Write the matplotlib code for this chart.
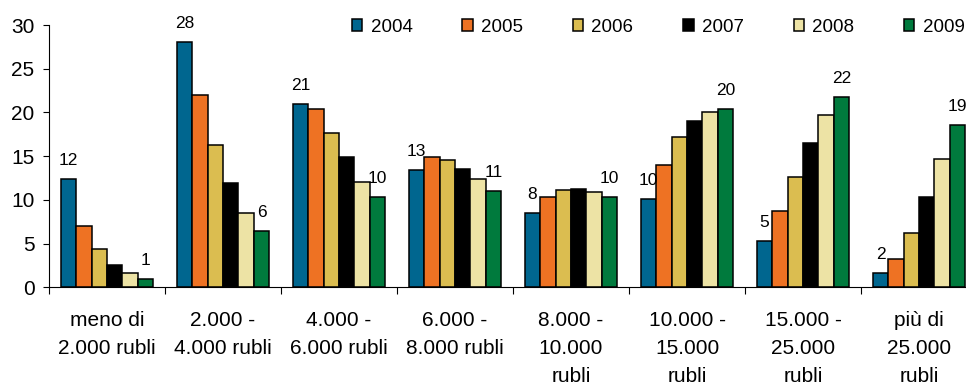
import numpy as np
import matplotlib.pyplot as plt

# =========================
# DATA
# =========================
categories = ["meno di\n2.000 rubli", "2.000 -\n4.000 rubli", "4.000 -\n6.000 rubli",
              "6.000 -\n8.000 rubli", "8.000 -\n10.000\nrubli", "10.000 -\n15.000\nrubli",
              "15.000 -\n25.000\nrubli", "più di\n25.000\nrubli"]
years = ["2004", "2005", "2006", "2007", "2008", "2009"]

v2004 = [12.4, 28.1, 21.0, 13.4, 8.45, 10.1, 5.3, 1.6]
v2005 = [7.05, 22.0, 20.4, 14.9, 10.3, 14.0, 8.7, 3.2]
v2006 = [4.4, 16.25, 17.6, 14.6, 11.15, 17.2, 12.6, 6.2]
v2007 = [2.55, 11.9, 14.95, 13.55, 11.25, 19.0, 16.55, 10.3]
v2008 = [1.6, 8.45, 12.1, 12.35, 10.95, 20.1, 19.7, 14.65]
v2009 = [0.9, 6.45, 10.3, 11.0, 10.3, 20.4, 21.75, 18.6]

series = [v2004, v2005, v2006, v2007, v2008, v2009]
colors = ["#00668F", "#EE7223", "#DBBD50", "#000000", "#EDE3A5", "#007A3D"]

# =========================
# PLOT
# =========================
plt.rcParams['font.family'] = ['Liberation Sans', 'DejaVu Sans']

fig = plt.figure(figsize=(9.66, 3.85), dpi=100)
ax = fig.add_axes([49 / 966, 0.2538, 928 / 966, 0.6812])

x = np.arange(len(categories))
w = 0.1327
bars = []
for i, (vals, col) in enumerate(zip(series, colors)):
    pos = x - 3 * w + w / 2 + i * w
    b = ax.bar(pos, vals, width=w, color=col, edgecolor="black", linewidth=1.1,
               label=years[i], zorder=2)
    bars.append(b)

# value labels for first and last year only
for b in (bars[0], bars[-1]):
    for rect in b:
        h = rect.get_height()
        ax.annotate(f"{h:.0f}", (rect.get_x() + rect.get_width() / 2, h),
                    xytext=(0, 8), textcoords="offset points",
                    ha="center", va="bottom", fontsize=12.5)

ax.set_xlim(-0.5, len(categories) - 0.5)
ax.set_ylim(0, 30)
ax.set_yticks(range(0, 31, 5))
ax.tick_params(axis="y", labelsize=15, length=4.5, width=0.8, pad=6)

ax.set_xticks(np.arange(len(categories) + 1) - 0.5)
ax.set_xticklabels([])
ax.set_xticks(x, minor=True)
ax.set_xticklabels(categories, minor=True, fontsize=15, linespacing=1.62)
ax.tick_params(axis="x", which="major", length=5, width=0.8)
ax.tick_params(axis="x", which="minor", length=0, pad=17)

for s in ["top", "right"]:
    ax.spines[s].set_visible(False)
for s in ["left", "bottom"]:
    ax.spines[s].set_linewidth(0.8)

fig.legend(handles=bars, labels=years, ncol=6, frameon=False,
           loc="center left", bbox_to_anchor=(352 / 966, 1 - 27 / 385),
           borderpad=0, borderaxespad=0, fontsize=13.5,
           handlelength=0.55, handleheight=0.55, handletextpad=0.45,
           columnspacing=2.65)

fig.savefig("out.png", dpi=100)
